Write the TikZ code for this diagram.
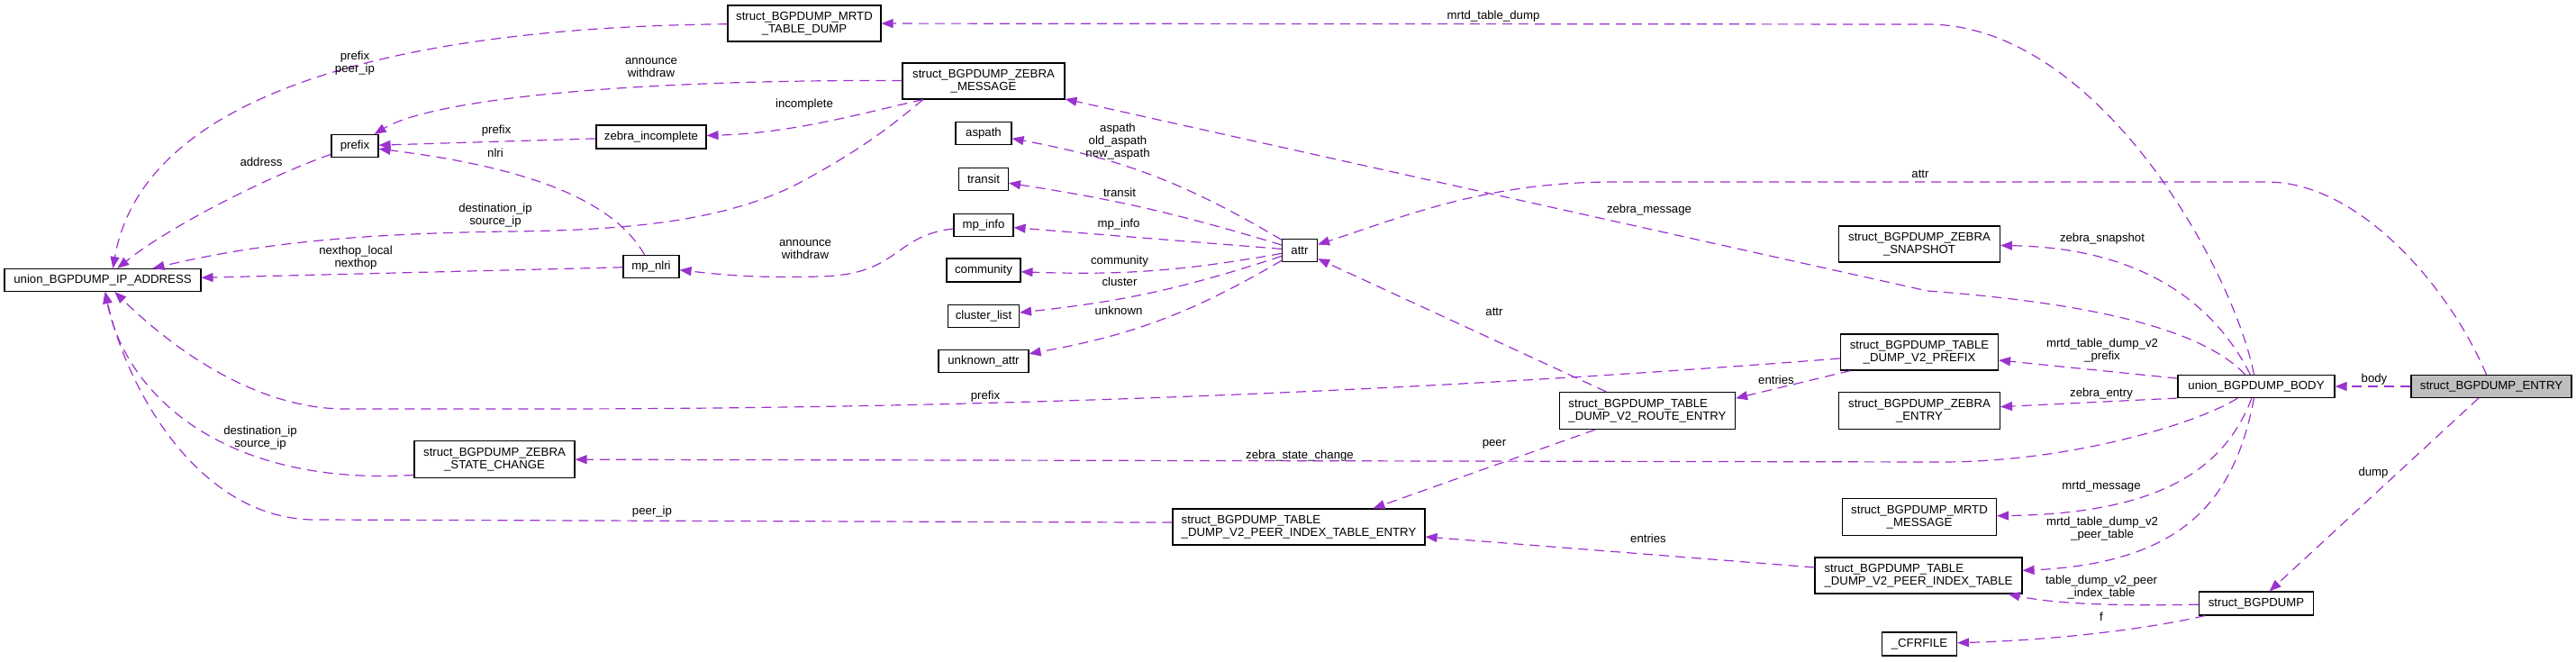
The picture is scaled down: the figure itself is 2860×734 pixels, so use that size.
\documentclass[tikz,border=0pt]{standalone}
\usepackage{fontspec}
\setmainfont{Liberation Sans}
\usetikzlibrary{arrows.meta}
\definecolor{orchid}{HTML}{9A32CD}
\definecolor{focus}{HTML}{BFBFBF}

\begin{document}
\begin{tikzpicture}[x=1pt,y=-1pt,
  box/.style={draw=black,fill=white,line width=1.1pt,inner sep=0pt,minimum height=25pt,align=center,font=\fontsize{13.2}{14.3}\selectfont},
  tall/.style={box,minimum height=40pt},
  edge/.style={draw=orchid,line width=1.2pt,dash pattern=on 11pt off 7pt,-{Triangle[length=13pt,width=10pt]}},
  lbl/.style={inner sep=0pt,align=center,font=\fontsize{13.2}{14.3}\selectfont}]
  \useasboundingbox (0,0) rectangle (2860,734);
  \path (114,311) node[box,minimum width=218pt] (ip) {union\_BGPDUMP\_IP\_ADDRESS}
  (394,162) node[box,minimum width=52pt] (prefix) {prefix}
  (723,152) node[box,minimum width=122pt,minimum height=26pt] (zinc) {zebra\_incomplete}
  (723,296) node[box,minimum width=62pt] (mpnlri) {mp\_nlri}
  (893,26) node[tall,minimum width=170pt] (mrtdtd) {struct\_BGPDUMP\_MRTD\\\_TABLE\_DUMP}
  (1092,90) node[tall,minimum width=180pt] (zmsg) {struct\_BGPDUMP\_ZEBRA\\\_MESSAGE}
  (1092,148) node[box,minimum width=62pt] (aspath) {aspath}
  (1092,199) node[box,minimum width=55pt] (transit) {transit}
  (1092,250) node[box,minimum width=66pt] (mpinfo) {mp\_info}
  (1092,300) node[box,minimum width=82pt,minimum height=26pt] (community) {community}
  (1092,351) node[box,minimum width=79pt] (cluster) {cluster\_list}
  (1092,401) node[box,minimum width=100pt] (unknown) {unknown\_attr}
  (1443,278) node[box,minimum width=39pt] (attr) {attr}
  (549,510) node[tall,minimum width=178pt,minimum height=41pt] (zsc) {struct\_BGPDUMP\_ZEBRA\\\_STATE\_CHANGE}
  (1442,585) node[tall,minimum width=280pt,align=left] (pite) {struct\_BGPDUMP\_TABLE\\\_DUMP\_V2\_PEER\_INDEX\_TABLE\_ENTRY}
  (2131,391) node[tall,minimum width=175pt] (v2prefix) {struct\_BGPDUMP\_TABLE\\\_DUMP\_V2\_PREFIX}
  (1829,456) node[tall,minimum width=195pt,minimum height=41pt,align=left] (route) {struct\_BGPDUMP\_TABLE\\\_DUMP\_V2\_ROUTE\_ENTRY}
  (2131,456) node[tall,minimum width=179pt,minimum height=41pt] (zentry) {struct\_BGPDUMP\_ZEBRA\\\_ENTRY}
  (2131,271) node[tall,minimum width=179pt] (zsnap) {struct\_BGPDUMP\_ZEBRA\\\_SNAPSHOT}
  (2131,574) node[tall,minimum width=171pt,minimum height=41pt] (mrtdmsg) {struct\_BGPDUMP\_MRTD\\\_MESSAGE}
  (2130,639) node[tall,minimum width=230pt,align=left] (pit) {struct\_BGPDUMP\_TABLE\\\_DUMP\_V2\_PEER\_INDEX\_TABLE}
  (2131,715) node[box,minimum width=83pt,minimum height=26pt] (cfr) {\_CFRFILE}
  (2505,429) node[box,minimum width=174pt] (body) {union\_BGPDUMP\_BODY}
  (2766,429) node[box,minimum width=178pt,fill=focus] (entry) {struct\_BGPDUMP\_ENTRY}
  (2505,670) node[box,minimum width=127pt,minimum height=26pt] (bgpdump) {struct\_BGPDUMP};

  \draw[edge] (entry) -- (body);
  \draw[edge] (entry) -- (bgpdump);
  \draw[edge] (entry) .. controls (2720,320) and (2620,202) .. (2517,202) -- (1792,202) .. controls (1650,202) and (1560,240) .. (attr);
  \draw[edge] (body) .. controls (2480,300) and (2330,27) .. (2140,27) -- (mrtdtd);
  \draw[edge] (body) .. controls (2440,360) and (2300,335) .. (2140,323) -- (zmsg);
  \draw[edge] (body) .. controls (2455,330) and (2370,275) .. (zsnap);
  \draw[edge] (body) -- (v2prefix);
  \draw[edge] (body.south west) -- (zentry);
  \draw[edge] (body) .. controls (2440,470) and (2300,513) .. (2154,513) -- (zsc);
  \draw[edge] (body) .. controls (2470,520) and (2400,570) .. (mrtdmsg);
  \draw[edge] (body) .. controls (2480,560) and (2420,625) .. (pit);
  \draw[edge] (bgpdump) .. controls (2340,673) and (2280,670) .. (pit);
  \draw[edge] (bgpdump) .. controls (2400,695) and (2300,710) .. (cfr);
  \draw[edge] (pit) -- (pite);
  \draw[edge] (pite.178) -- (350,577) .. controls (220,577) and (140,430) .. (ip);
  \draw[edge] (route.-160) -- (pite.14);
  \draw[edge] (route) -- (attr);
  \draw[edge] (v2prefix.-165) -- (route.8);
  \draw[edge] (v2prefix) .. controls (1700,425) and (1200,454) .. (600,454) -- (383,454) .. controls (290,454) and (200,395) .. (ip);
  \draw[edge] (zsc.-169) .. controls (250,540) and (140,440) .. (ip);
  \draw[edge] (attr) to[bend right=10] (aspath);
  \draw[edge] (attr) to[bend right=4] (transit);
  \draw[edge] (attr) -- (mpinfo);
  \draw[edge] (attr) to[bend left=6] (community);
  \draw[edge] (attr) to[bend left=6] (cluster);
  \draw[edge] (attr) to[bend left=10] (unknown);
  \draw[edge] (mpinfo) .. controls (990,262) and (1000,305) .. (910,307) .. controls (840,309) and (800,305) .. (mpnlri);
  \draw[edge] (mpnlri) .. controls (680,220) and (580,185) .. (prefix);
  \draw[edge] (mpnlri) -- (ip);
  \draw[edge] (zmsg.-163) .. controls (995,135) and (960,165) .. (880,207) .. controls (800,245) and (700,256) .. (560,257) .. controls (380,260) and (280,272) .. (ip);
  \draw[edge] (zmsg.-163) .. controls (960,125) and (880,148) .. (zinc);
  \draw[edge] (zmsg) .. controls (700,88) and (480,110) .. (prefix);
  \draw[edge] (zinc) -- (prefix);
  \draw[edge] (prefix) .. controls (300,195) and (190,250) .. (ip);
  \draw[edge] (mrtdtd) .. controls (450,30) and (160,100) .. (ip.49);

  \node[lbl] (lbody) at (2636,421) {body};
  \node[lbl] (ldump) at (2635,525) {dump};
  \node[lbl] (lattr) at (2132,193) {attr};
  \node[lbl] (lmrtdtd) at (1658,18) {mrtd\_table\_dump};
  \node[lbl] (lzmsg) at (1831,233) {zebra\_message};
  \node[lbl] (lzsnap) at (2334,265) {zebra\_snapshot};
  \node[lbl] (lv2prefix) at (2334,389) {mrtd\_table\_dump\_v2\\\_prefix};
  \node[lbl] (lzentry) at (2333,437) {zebra\_entry};
  \node[lbl] (lzsc) at (1443,506) {zebra\_state\_change};
  \node[lbl] (lmrtdmsg) at (2333,540) {mrtd\_message};
  \node[lbl] (lpit) at (2334,587) {mrtd\_table\_dump\_v2\\\_peer\_table};
  \node[lbl] (lpeertable) at (2333,652) {table\_dump\_v2\_peer\\\_index\_table};
  \node[lbl] (lf) at (2333,685) {f};
  \node[lbl] (lentries) at (1830,598) {entries};
  \node[lbl] (lpeerip) at (724,568) {peer\_ip};
  \node[lbl] (lpeer) at (1659,493) {peer};
  \node[lbl] (lrattr) at (1659,346) {attr};
  \node[lbl] (lrentries) at (1972,422) {entries};
  \node[lbl] (lprefix) at (1094,440) {prefix};
  \node[lbl] (lzscip) at (289,486) {destination\_ip\\source\_ip};
  \node[lbl] (laspath) at (1241,157) {aspath\\old\_aspath\\new\_aspath};
  \node[lbl] (ltransit) at (1243,214) {transit};
  \node[lbl] (lmpinfo) at (1242,249) {mp\_info};
  \node[lbl] (lcommunity) at (1243,290) {community};
  \node[lbl] (lcluster) at (1243,313) {cluster};
  \node[lbl] (lunknown) at (1242,345) {unknown};
  \node[lbl] (lmpnlri) at (894,277) {announce\\withdraw};
  \node[lbl] (lnlri) at (550,170) {nlri};
  \node[lbl] (lnexthop) at (395,286) {nexthop\_local\\nexthop};
  \node[lbl] (lzmsgip) at (550,239) {destination\_ip\\source\_ip};
  \node[lbl] (lincomplete) at (893,116) {incomplete};
  \node[lbl] (lzmsgprefix) at (723,75) {announce\\withdraw};
  \node[lbl] (lzincprefix) at (551,145) {prefix};
  \node[lbl] (laddress) at (290,180) {address};
  \node[lbl] (lmrtdip) at (394,70) {prefix\\peer\_ip};
\end{tikzpicture}
\end{document}
